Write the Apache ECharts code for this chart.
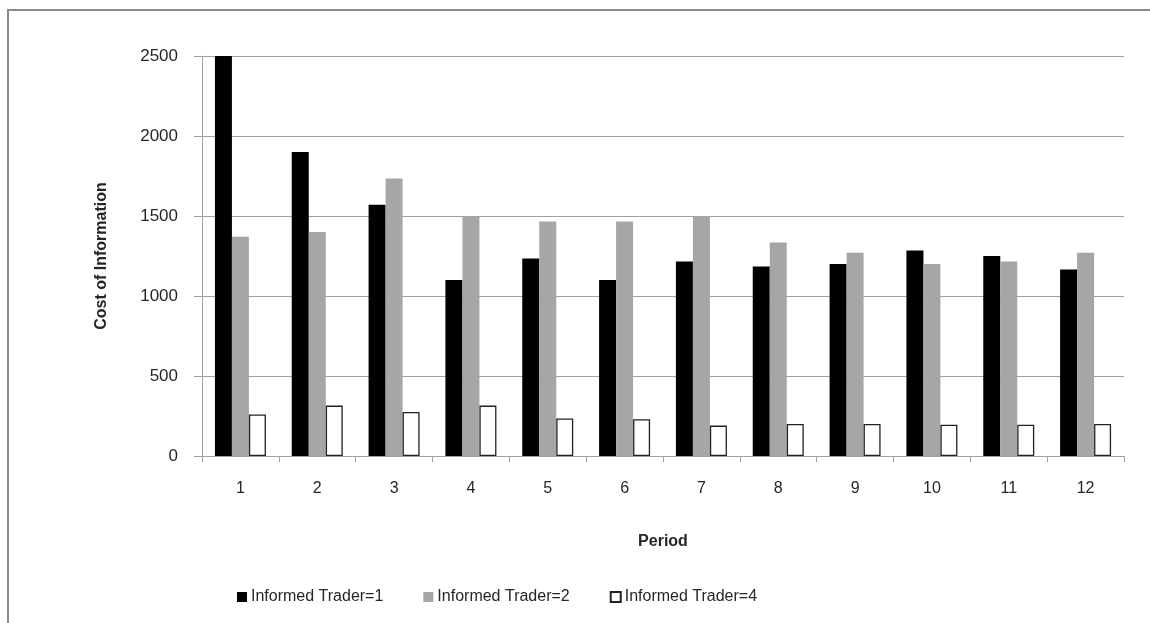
<!DOCTYPE html>
<html>
<head>
<meta charset="utf-8">
<script src="https://cdn.jsdelivr.net/npm/echarts@6/dist/echarts.min.js"></script>
<style>
  html, body { margin: 0; padding: 0; background: #ffffff; }
  #chart { width: 1150px; height: 623px; }
</style>
</head>
<body>
<div id="chart"></div>
<script>
// Periods on the x axis
const periods = ['1', '2', '3', '4', '5', '6', '7', '8', '9', '10', '11', '12'];

// Cost of information per period, by number of informed traders
const trader1 = [2500, 1900, 1570, 1100, 1235, 1100, 1215, 1185, 1200, 1285, 1250, 1165];
const trader2 = [1370, 1400, 1735, 1500, 1465, 1465, 1500, 1335, 1270, 1200, 1215, 1270];
const trader4 = [260, 315, 275, 315, 235, 230, 190, 200, 200, 195, 195, 200];

const seriesNames = ['Informed Trader=1', 'Informed Trader=2', 'Informed Trader=4'];

const FONT = '"Liberation Sans", "DejaVu Sans", sans-serif';
const TEXT = '#262626';
const AXIS = '#a0a0a0';

const chart = echarts.init(document.getElementById('chart'), null, { renderer: 'canvas' });

chart.setOption({
  animation: false,
  backgroundColor: '#ffffff',
  textStyle: { fontFamily: FONT, color: TEXT },
  graphic: [
    {
      type: 'rect',
      shape: { x: 8, y: 10, width: 1300, height: 800 },
      style: { fill: 'none', stroke: '#8c8c8c', lineWidth: 2 },
      silent: true
    }
  ],
  grid: { left: 202, right: 26, top: 56, bottom: 167, containLabel: false },
  legend: {
    left: 232,
    top: 584,
    itemWidth: 10,
    itemHeight: 10,
    itemGap: 40,
    icon: 'rect',
    textStyle: { fontFamily: FONT, fontSize: 16, color: TEXT, padding: [0, 0, 0, -1] },
    data: seriesNames
  },
  xAxis: {
    type: 'category',
    data: periods,
    name: 'Period',
    nameLocation: 'middle',
    nameGap: 78,
    nameTextStyle: { fontFamily: FONT, fontSize: 16, fontWeight: 'bold', color: TEXT },
    axisLine: { show: true, lineStyle: { color: AXIS, width: 1 } },
    axisTick: { show: true, alignWithLabel: false, length: 6, lineStyle: { color: AXIS } },
    axisLabel: { fontFamily: FONT, fontSize: 16, color: TEXT, margin: 25 },
    splitLine: { show: false }
  },
  yAxis: {
    type: 'value',
    min: 0,
    max: 2500,
    interval: 500,
    name: 'Cost of Information',
    nameLocation: 'middle',
    nameRotate: 90,
    nameGap: 92,
    nameTextStyle: { fontFamily: FONT, fontSize: 16, fontWeight: 'bold', color: TEXT },
    axisLine: { show: true, lineStyle: { color: AXIS, width: 1 } },
    axisTick: { show: true, inside: false, length: 8, lineStyle: { color: AXIS } },
    axisLabel: {
      fontFamily: FONT,
      fontSize: 17,
      color: TEXT,
      margin: 24,
      formatter: (v) => String(v)
    },
    splitLine: { show: true, lineStyle: { color: AXIS, width: 1 } }
  },
  series: [
    {
      name: seriesNames[0],
      type: 'bar',
      data: trader1,
      barWidth: 17,
      barGap: '0%',
      itemStyle: { color: '#000000' }
    },
    {
      name: seriesNames[1],
      type: 'bar',
      data: trader2,
      barWidth: 17,
      barGap: '0%',
      itemStyle: { color: '#a6a6a6' }
    },
    {
      name: seriesNames[2],
      type: 'bar',
      data: trader4,
      barWidth: 17,
      barGap: '0%',
      itemStyle: { color: '#ffffff', borderColor: '#222222', borderWidth: 1.3 }
    }
  ]
});
</script>
</body>
</html>
